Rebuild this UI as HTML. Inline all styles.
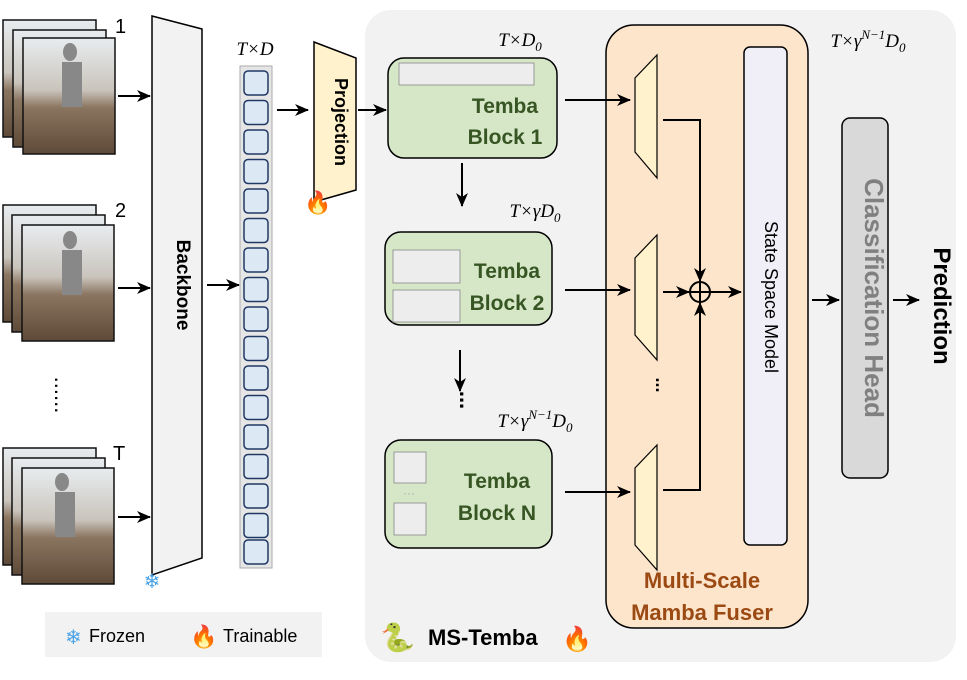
<!DOCTYPE html>
<html><head><meta charset="utf-8"><style>
html,body{margin:0;padding:0;background:#fff;}
svg text{font-family:"Liberation Sans",sans-serif;}
.m{font-family:"Liberation Serif",serif;font-style:italic;font-size:19px;}
.tb{font-weight:bold;font-size:21px;fill:#375623;}
</style></head><body>
<svg width="967" height="675" viewBox="0 0 967 675" xmlns="http://www.w3.org/2000/svg">
<defs>
<marker id="a" markerWidth="14" markerHeight="14" refX="13" refY="7" orient="auto" markerUnits="userSpaceOnUse"><path d="M0,1 L14,7 L0,13 L4,7 Z" fill="#000"/></marker>
<linearGradient id="ph" x1="0" y1="0" x2="0" y2="1"><stop offset="0" stop-color="#e8ecef"/><stop offset="0.45" stop-color="#c9c4bc"/><stop offset="0.6" stop-color="#8a7560"/><stop offset="1" stop-color="#5e4a38"/></linearGradient>
</defs>
<rect x="365" y="10" width="591" height="652" rx="26" fill="#f2f2f2"/>
<g stroke="#111" stroke-width="1.5" fill="url(#ph)">
<rect x="3" y="20" width="93" height="117"/><rect x="13" y="30" width="93" height="117"/><rect x="23" y="38" width="92" height="116"/>
<rect x="3" y="205" width="93" height="117"/><rect x="12" y="215" width="93" height="117"/><rect x="22" y="225" width="92" height="116"/>
<rect x="3" y="448" width="93" height="117"/><rect x="12" y="458" width="93" height="117"/><rect x="22" y="468" width="92" height="116"/>
</g>
<g fill="#888"><ellipse cx="70" cy="52" rx="7" ry="9"/><ellipse cx="70" cy="240" rx="7" ry="9"/><ellipse cx="62" cy="482" rx="7" ry="9"/></g>
<g fill="#888"><rect x="62" y="62" width="20" height="45"/><rect x="62" y="250" width="20" height="45"/><rect x="55" y="492" width="20" height="45"/></g>
<text x="115" y="33" font-size="20">1</text><text x="115" y="217" font-size="20">2</text><text x="113" y="460" font-size="20">T</text>
<text x="55" y="395" font-size="22" text-anchor="middle" transform="rotate(90 55 395)">......</text>
<polygon points="152,16 202,29 202,558 152,575" fill="#f2f2f2" stroke="#000" stroke-width="1.5"/>
<text x="177" y="285" font-size="19" font-weight="bold" text-anchor="middle" transform="rotate(90 177 285)">Backbone</text>
<text x="152" y="588" font-size="20" fill="#4aa3e8" text-anchor="middle">❄</text>
<text x="255" y="55" class="m" text-anchor="middle">T×D</text>
<rect x="240" y="66" width="32" height="502" fill="#e6e6e6" stroke="#aaa"/>
<g fill="#dce9f5" stroke="#203864" stroke-width="1.5">
<rect x="244" y="71" width="24" height="24" rx="4"/><rect x="244" y="100.5" width="24" height="24" rx="4"/><rect x="244" y="130" width="24" height="24" rx="4"/><rect x="244" y="159.5" width="24" height="24" rx="4"/><rect x="244" y="189" width="24" height="24" rx="4"/><rect x="244" y="218.5" width="24" height="24" rx="4"/><rect x="244" y="248" width="24" height="24" rx="4"/><rect x="244" y="277.5" width="24" height="24" rx="4"/><rect x="244" y="307" width="24" height="24" rx="4"/><rect x="244" y="336.5" width="24" height="24" rx="4"/><rect x="244" y="366" width="24" height="24" rx="4"/><rect x="244" y="395.5" width="24" height="24" rx="4"/><rect x="244" y="425" width="24" height="24" rx="4"/><rect x="244" y="454.5" width="24" height="24" rx="4"/><rect x="244" y="484" width="24" height="24" rx="4"/><rect x="244" y="513.5" width="24" height="24" rx="4"/><rect x="244" y="540" width="24" height="24" rx="4"/>
</g>
<polygon points="314,42 356,58 356,190 314,202" fill="#fff2cc" stroke="#000" stroke-width="1.5"/>
<text x="335" y="122" font-size="18" font-weight="bold" text-anchor="middle" transform="rotate(90 335 122)">Projection</text>
<text x="318" y="210" font-size="22" text-anchor="middle">🔥</text>
<text x="520" y="46" class="m" text-anchor="middle">T×D<tspan font-size="13" dy="5">0</tspan></text>
<rect x="388" y="58" width="169" height="100" rx="16" stroke="#000" stroke-width="1.5" fill="#d6e7c8"/>
<rect x="399" y="63" width="135" height="22" fill="#ededed" stroke="#999"/>
<text x="505" y="113" class="tb" text-anchor="middle">Temba</text><text x="505" y="144" class="tb" text-anchor="middle">Block 1</text>
<text x="535" y="217" class="m" text-anchor="middle">T×γD<tspan font-size="13" dy="5">0</tspan></text>
<rect x="385" y="232" width="167" height="93" rx="16" fill="#d6e7c8" stroke="#000" stroke-width="1.5"/>
<rect x="393" y="250" width="67" height="33" fill="#ededed" stroke="#999"/><rect x="393" y="290" width="67" height="32" fill="#ededed" stroke="#999"/>
<text x="507" y="278" class="tb" text-anchor="middle">Temba</text><text x="507" y="310" class="tb" text-anchor="middle">Block 2</text>
<text x="460" y="400" font-size="22" font-weight="bold" text-anchor="middle" transform="rotate(90 460 400)">...</text>
<text x="535" y="427" class="m" text-anchor="middle">T×γ<tspan font-size="13" dy="-8">N−1</tspan><tspan dy="8">D</tspan><tspan font-size="13" dy="5">0</tspan></text>
<rect x="385" y="440" width="167" height="108" rx="16" fill="#d6e7c8" stroke="#000" stroke-width="1.5"/>
<rect x="394" y="452" width="32" height="31" fill="#ededed" stroke="#999"/><rect x="394" y="503" width="32" height="32" fill="#ededed" stroke="#999"/>
<text x="409" y="497" font-size="12" fill="#aaa" text-anchor="middle">···</text>
<text x="497" y="488" class="tb" text-anchor="middle">Temba</text><text x="497" y="520" class="tb" text-anchor="middle">Block N</text>
<rect x="606" y="25" width="202" height="603" rx="28" fill="#fde5cc" stroke="#000" stroke-width="1.5"/>
<g fill="#fff2cc" stroke="#000" stroke-width="1.2">
<polygon points="657,55 657,178 635,152 635,78"/><polygon points="657,235 657,360 635,335 635,258"/><polygon points="657,445 657,570 635,545 635,468"/>
</g>
<circle cx="700" cy="292" r="10" fill="none" stroke="#000" stroke-width="2"/>
<line x1="690" y1="292" x2="710" y2="292" stroke="#000" stroke-width="2"/><line x1="700" y1="282" x2="700" y2="302" stroke="#000" stroke-width="2"/>
<text x="656" y="385" font-size="18" font-weight="bold" text-anchor="middle" transform="rotate(90 656 385)">...</text>
<rect x="744" y="47" width="43" height="498" rx="6" fill="#f0eef7" stroke="#000" stroke-width="1.5"/>
<text x="765" y="297" font-size="18" text-anchor="middle" transform="rotate(90 765 297)">State Space Model</text>
<text x="702" y="588" font-size="22" font-weight="bold" fill="#9c4a14" text-anchor="middle">Multi-Scale</text>
<text x="702" y="620" font-size="22" font-weight="bold" fill="#9c4a14" text-anchor="middle">Mamba Fuser</text>
<text x="868" y="47" class="m" text-anchor="middle">T×γ<tspan font-size="13" dy="-8">N−1</tspan><tspan dy="8">D</tspan><tspan font-size="13" dy="5">0</tspan></text>
<rect x="842" y="118" width="46" height="360" rx="8" fill="#d9d9d9" stroke="#000" stroke-width="1.5"/>
<text x="865" y="298" font-size="26" font-weight="bold" fill="#808080" text-anchor="middle" transform="rotate(90 865 298)">Classification Head</text>
<text x="934" y="306" font-size="24" font-weight="bold" text-anchor="middle" transform="rotate(90 934 306)">Prediction</text>
<g stroke="#000" stroke-width="2" marker-end="url(#a)">
<line x1="118" y1="96" x2="150" y2="96"/><line x1="118" y1="288" x2="150" y2="288"/><line x1="118" y1="517" x2="150" y2="517"/>
<line x1="207" y1="285" x2="239" y2="285"/><line x1="277" y1="110" x2="308" y2="110"/><line x1="358" y1="110" x2="386" y2="110"/>
<line x1="462" y1="163" x2="462" y2="206"/><line x1="460" y1="350" x2="460" y2="391"/>
<line x1="565" y1="100" x2="630" y2="100"/><line x1="565" y1="290" x2="630" y2="290"/><line x1="565" y1="492" x2="630" y2="492"/>
<polyline points="663,120 700,120 700,281" fill="none"/><line x1="663" y1="292" x2="689" y2="292"/>
<polyline points="663,490 700,490 700,303" fill="none"/><line x1="711" y1="292" x2="741" y2="292"/>
<line x1="812" y1="300" x2="839" y2="300"/><line x1="893" y1="300" x2="919" y2="300"/>
</g>
<rect x="45" y="612" width="277" height="45" fill="#f2f2f2"/>
<text x="65" y="644" font-size="20" fill="#4aa3e8">❄</text><text x="89" y="642" font-size="18">Frozen</text>
<text x="190" y="644" font-size="22">🔥</text><text x="223" y="642" font-size="18">Trainable</text>
<text x="380" y="647" font-size="28">🐍</text>
<text x="428" y="645" font-size="22" font-weight="bold">MS-Temba</text><text x="562" y="647" font-size="24">🔥</text>
</svg>
</body></html>
